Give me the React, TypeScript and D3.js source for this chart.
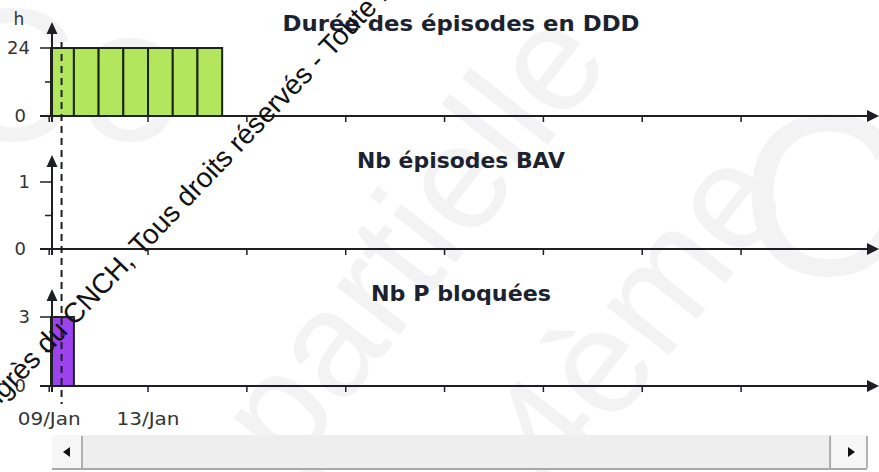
import React from 'react';
import * as d3 from 'd3';

// ---------- data ----------
const episodeDays = ['2024-01-09', '2024-01-10', '2024-01-11', '2024-01-12', '2024-01-13', '2024-01-14', '2024-01-15'];
const episodeHours = [24, 24, 24, 24, 24, 24, 24];
const bavDays: string[] = [];
const bavCounts: number[] = [];
const blockedDays = ['2024-01-09'];
const blockedCounts = [3];

const panelTitles = ['Durée des épisodes en DDD', 'Nb épisodes BAV', 'Nb P bloquées'];
const panelMax = [24, 1, 3];
const panelUnit = ['h', '', ''];
const tickDates = ['2024-01-09', '2024-01-13', '2024-01-17', '2024-01-21', '2024-01-25', '2024-01-29', '2024-02-02', '2024-02-06'];
const tickLabels = ['09/Jan', '13/Jan', '', '', '', '', '', ''];
const markerDate = '2024-01-09T12:00:00Z';
const domainDates = ['2024-01-09', '2024-02-10'];

// ---------- layout ----------
const W = 879;
const H = 472;
const X0 = 49.2;
const DAY_PX = 24.71;
const Y_AXIS_X = 52;
const AXIS_RIGHT = 879;
const panelLayout = [
  { axisY: 116, topY: 48, tipY: 22, titleY: 31, titleW: 357 },
  { axisY: 249, topY: 182, tipY: 155, titleY: 168, titleW: 208 },
  { axisY: 386, topY: 317, tipY: 289, titleY: 301, titleW: 180 },
];
const panelData = [
  { days: episodeDays, values: episodeHours, fill: '#b2e65c' },
  { days: bavDays, values: bavCounts, fill: '#6fa8dc' },
  { days: blockedDays, values: blockedCounts, fill: '#9d42ef' },
];

const parse = (s: string) => new Date(s.length === 10 ? s + 'T00:00:00Z' : s);

const xScale = d3
  .scaleUtc()
  .domain(domainDates.map(parse))
  .range([X0, X0 + DAY_PX * d3.utcDay.count(parse(domainDates[0]), parse(domainDates[1]))]);

const INK = '#1d1f24';
const LABEL_FONT = "'DejaVu Sans', Verdana, sans-serif";

export default function App() {
  const markerX = xScale(parse(markerDate));
  return (
    <svg
      width={W}
      height={H}
      viewBox={`0 0 ${W} ${H}`}
      style={{ position: 'absolute', left: 0, top: 0, display: 'block', background: '#fff' }}
    >
      <rect x={0} y={0} width={W} height={H} fill="#fff" />
      {/* faint background watermarks */}
      <g fill="#f3f3f3" fontFamily="'Liberation Sans', Arial, sans-serif">
        <text x={-60} y={140} fontSize={190}>Co</text>
        <g transform="translate(290,475) rotate(-52)">
          <text x={0} y={0} fontSize={150}>partielle</text>
        </g>
        <g transform="translate(560,495) rotate(-52)">
          <text x={0} y={0} fontSize={150}>4ème</text>
        </g>
        <text x={740} y={275} fontSize={230}>C</text>
      </g>

      {panelLayout.map((p, i) => {
        const y = d3.scaleLinear().domain([0, panelMax[i]]).range([p.axisY, p.topY]);
        const data = panelData[i];
        const xTicks = tickDates.map(parse);
        return (
          <g key={i}>
            {/* bars */}
            {data.days.map((d, j) => {
              const t0 = parse(d);
              const t1 = d3.utcDay.offset(t0, 1);
              const xa = Math.max(xScale(t0), Y_AXIS_X - 1);
              const xb = xScale(t1);
              return (
                <rect
                  key={j}
                  x={xa}
                  y={y(data.values[j])}
                  width={xb - xa}
                  height={y(0) - y(data.values[j])}
                  fill={data.fill}
                  stroke="#1c2514"
                  strokeWidth={2}
                />
              );
            })}
            {/* x axis */}
            <line x1={40} x2={AXIS_RIGHT - 10} y1={p.axisY} y2={p.axisY} stroke={INK} strokeWidth={2} />
            <path
              d={`M${AXIS_RIGHT - 12},${p.axisY - 6} L${AXIS_RIGHT},${p.axisY} L${AXIS_RIGHT - 12},${p.axisY + 6} Z`}
              fill={INK}
            />
            {xTicks.map((t, k) => (
              <line key={k} x1={xScale(t)} x2={xScale(t)} y1={p.axisY} y2={p.axisY + 6} stroke={INK} strokeWidth={1.5} />
            ))}
            {/* y axis */}
            <line x1={Y_AXIS_X} x2={Y_AXIS_X} y1={p.axisY + 6} y2={p.tipY + 8} stroke={INK} strokeWidth={2} />
            <path
              d={`M${Y_AXIS_X - 5.5},${p.tipY + 12} L${Y_AXIS_X},${p.tipY} L${Y_AXIS_X + 5.5},${p.tipY + 12} Z`}
              fill={INK}
            />
            <line x1={40} x2={Y_AXIS_X} y1={y(panelMax[i])} y2={y(panelMax[i])} stroke={INK} strokeWidth={1.5} />
            <line x1={45} x2={Y_AXIS_X} y1={y(panelMax[i] / 2)} y2={y(panelMax[i] / 2)} stroke={INK} strokeWidth={1.5} />
            {/* y labels */}
            <g fontFamily={LABEL_FONT} fontSize={18} fill="#333" textAnchor="end">
              <text x={30} y={y(panelMax[i])} dy="0.36em">{panelMax[i]}</text>
              <text x={26} y={y(0)} dy="0.36em">0</text>
            </g>
            {panelUnit[i] && (
              <text x={19} y={25} fontFamily={LABEL_FONT} fontSize={17} fill="#333" textAnchor="middle">
                {panelUnit[i]}
              </text>
            )}
            {/* title */}
            <text
              x={461}
              y={p.titleY}
              textAnchor="middle"
              fontFamily="'DejaVu Sans', Verdana, sans-serif"
              fontWeight="bold"
              fontSize={21.5}
              fill="#1c2330"
              textLength={p.titleW}
              lengthAdjust="spacingAndGlyphs"
            >
              {panelTitles[i]}
            </text>
          </g>
        );
      })}

      {/* x tick labels under last panel */}
      <g fontFamily={LABEL_FONT} fontSize={18} fill="#333" textAnchor="middle">
        {tickDates.map((d, k) =>
          tickLabels[k] ? (
            <text key={k} x={xScale(parse(d))} y={425} textLength={63} lengthAdjust="spacingAndGlyphs">
              {tickLabels[k]}
            </text>
          ) : null
        )}
      </g>

      {/* marker dashed line */}
      <line x1={markerX} x2={markerX} y1={42} y2={404} stroke={INK} strokeWidth={2} strokeDasharray="7,5" />

      {/* scrollbar */}
      <g>
        <rect x={52} y={435} width={815} height={34} fill="#eeeeee" />
        <rect x={52} y={435} width={30} height={34} fill="#f6f6f6" />
        <rect x={832} y={435} width={35} height={34} fill="#f6f6f6" />
        <line x1={82} x2={82} y1={436} y2={468} stroke="#9a9a9a" strokeWidth={1.5} />
        <line x1={830} x2={830} y1={436} y2={468} stroke="#9a9a9a" strokeWidth={1.5} />
        <line x1={867} x2={867} y1={436} y2={468} stroke="#9a9a9a" strokeWidth={1.5} />
        <line x1={52} x2={867} y1={469} y2={469} stroke="#a8a8a8" strokeWidth={2} />
        <path d="M63,452 L70,447 L70,457 Z" fill="#111" />
        <path d="M855,452 L848,447 L848,457 Z" fill="#111" />
      </g>

      {/* copyright watermark */}
      <g transform="translate(141,257) rotate(-46.3)" fontFamily="'Liberation Sans', Arial, sans-serif" fontSize={28} fill="#111">
        <text x={-7.8} y={0} textAnchor="end">Congrès du CNCH,</text>
        <text x={0} y={0} textAnchor="start">Tous droits réservés - Toute reproduction</text>
      </g>
    </svg>
  );
}
